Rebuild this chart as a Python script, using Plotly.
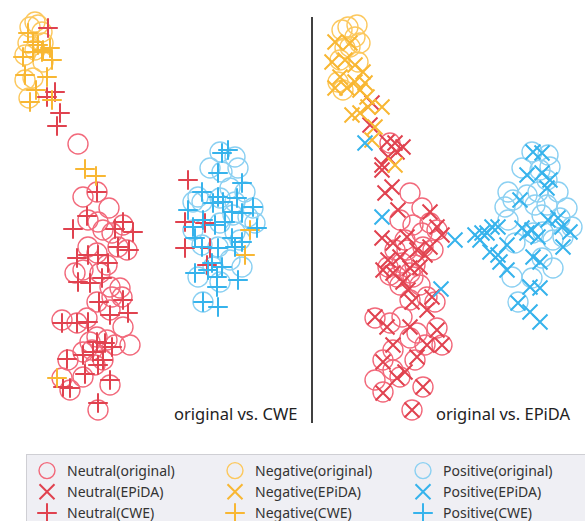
import plotly.graph_objects as go

# ---------------- data ----------------
# Left panel: original vs. CWE
L_neu_orig_x = [78, 97, 83, 109, 88, 98, 123, 103, 112, 88, 118, 127, 97, 107, 75, 83, 100, 110, 120, 97, 112, 122, 110, 123, 62, 77, 87, 97, 107, 115, 130, 83, 92, 103, 68, 95, 83, 62, 70, 110, 98, 90]
L_neu_orig_y = [144, 192, 197, 208, 220, 222, 225, 230, 233, 247, 247, 250, 253, 265, 273, 270, 273, 287, 288, 302, 297, 297, 310, 327, 320, 323, 318, 337, 340, 345, 345, 352, 350, 360, 360, 365, 377, 378, 390, 385, 410, 342]
L_neu_cwe_x = [48, 55, 47, 60, 57, 97, 87, 73, 123, 115, 133, 118, 129, 77, 88, 98, 108, 78, 90, 102, 99, 123, 110, 128, 62, 77, 88, 97, 105, 112, 83, 93, 103, 67, 98, 85, 70, 63, 110, 98, 188, 185, 205, 185, 210, 207]
L_neu_cwe_y = [28, 92, 97, 113, 126, 192, 216, 229, 222, 229, 232, 247, 250, 258, 255, 255, 263, 282, 283, 278, 302, 300, 315, 313, 323, 323, 322, 342, 343, 347, 355, 352, 360, 359, 365, 374, 388, 387, 380, 403, 180, 222, 223, 248, 248, 265]
L_neg_orig_x = [30, 38, 42, 28, 25, 43, 43, 25, 29, 33, 35, 35]
L_neg_orig_y = [27, 25, 32, 43, 55, 43, 62, 80, 98, 78, 50, 22]
L_neg_cwe_x = [28, 33, 38, 33, 43, 50, 23, 52, 47, 25, 36, 30, 52, 42, 85, 96, 57, 250, 245]
L_neg_cwe_y = [33, 42, 45, 52, 50, 48, 57, 60, 77, 75, 90, 102, 100, 52, 169, 176, 378, 230, 255]
L_pos_orig_x = [220, 235, 210, 222, 238, 245, 198, 202, 230, 220, 235, 253, 233, 248, 255, 193, 202, 220, 235, 240, 218, 230, 242, 198, 220, 213, 193, 203]
L_pos_orig_y = [152, 157, 168, 172, 168, 192, 197, 202, 188, 198, 202, 208, 215, 217, 223, 230, 245, 223, 232, 240, 247, 260, 267, 277, 282, 267, 202, 302]
L_pos_cwe_x = [222, 228, 218, 242, 202, 218, 237, 213, 223, 188, 253, 232, 242, 203, 193, 215, 225, 257, 232, 242, 195, 202, 218, 235, 212, 222, 208, 195, 217, 238, 217, 203, 218]
L_pos_cwe_y = [153, 150, 173, 183, 192, 197, 198, 203, 202, 210, 207, 212, 213, 220, 227, 225, 222, 228, 238, 242, 238, 247, 248, 247, 263, 267, 270, 273, 277, 280, 287, 302, 307]

# Right panel: original vs. EPiDA
R_neu_orig_x = [390, 410, 422, 400, 413, 430, 437, 405, 422, 395, 407, 423, 433, 388, 402, 415, 397, 410, 400, 420, 390, 413, 410, 427, 435, 375, 390, 402, 417, 437, 442, 425, 410, 393, 383, 415, 400, 375, 383, 423, 412, 393]
R_neu_orig_y = [143, 193, 208, 220, 225, 223, 230, 240, 233, 250, 250, 247, 250, 267, 263, 265, 277, 273, 285, 285, 275, 277, 300, 297, 302, 318, 323, 317, 333, 328, 345, 345, 338, 350, 360, 360, 377, 380, 392, 387, 410, 370]
R_neu_epida_x = [372, 370, 387, 395, 403, 397, 382, 388, 382, 392, 385, 398, 430, 382, 437, 442, 393, 407, 417, 425, 430, 388, 400, 383, 393, 410, 403, 420, 432, 412, 427, 375, 387, 410, 437, 393, 427, 442, 417, 383, 405, 397, 383, 423, 412, 408]
R_neu_epida_y = [103, 125, 142, 143, 147, 152, 165, 157, 170, 187, 193, 210, 212, 238, 227, 235, 243, 237, 250, 255, 247, 260, 257, 270, 273, 268, 282, 267, 297, 302, 310, 317, 327, 327, 330, 345, 345, 345, 357, 362, 372, 378, 393, 387, 410, 290]
R_neg_orig_x = [348, 357, 342, 355, 360, 345, 358, 340, 338, 343, 350]
R_neg_orig_y = [27, 25, 30, 37, 43, 48, 62, 60, 82, 90, 47]
R_neg_epida_x = [335, 350, 332, 345, 355, 363, 340, 355, 365, 335, 347, 360, 367, 382, 368, 352, 360, 375, 372, 395]
R_neg_epida_y = [42, 43, 62, 60, 65, 72, 77, 82, 83, 88, 88, 90, 97, 107, 107, 115, 113, 127, 140, 165]
R_pos_orig_x = [532, 548, 522, 540, 550, 547, 558, 508, 513, 505, 527, 538, 535, 547, 567, 560, 572, 508, 542, 515, 533, 543, 553, 563, 542, 512, 532, 553, 518]
R_pos_orig_y = [152, 155, 168, 170, 167, 180, 192, 192, 200, 207, 195, 192, 205, 205, 208, 218, 227, 220, 215, 243, 233, 232, 240, 237, 258, 277, 278, 268, 302]
R_pos_epida_x = [365, 382, 455, 441, 533, 542, 527, 542, 547, 550, 520, 558, 548, 562, 570, 475, 487, 492, 498, 522, 532, 538, 507, 490, 498, 500, 507, 533, 540, 563, 530, 540, 518, 530, 540, 482, 480, 527]
R_pos_epida_y = [143, 217, 240, 289, 152, 153, 175, 173, 188, 180, 200, 218, 220, 227, 232, 235, 233, 227, 227, 228, 230, 237, 245, 252, 255, 262, 270, 257, 262, 247, 287, 288, 303, 312, 322, 233, 240, 233]

panel_titles = ["original vs. CWE", "original vs. EPiDA"]

# ---------------- styles ----------------
C_NEU_O, C_NEU = "#f2697b", "#e0424f"
C_NEG_O, C_NEG = "#fcc85e", "#f8b733"
C_POS_O, C_POS = "#8bd0f2", "#36b3ec"

def circ(x, y, c, name, xa, show):
    return go.Scatter(x=x, y=y, mode="markers", name=name, xaxis=xa, yaxis="y",
                      showlegend=show, cliponaxis=False,
                      marker=dict(symbol="circle-open", size=20, color=c, line=dict(width=1.4, color=c)))

def mark(x, y, c, name, xa, sym, size):
    return go.Scatter(x=x, y=y, mode="markers", name=name, xaxis=xa, yaxis="y",
                      showlegend=True, cliponaxis=False,
                      marker=dict(symbol=sym, size=size, color=c, line=dict(width=2, color=c)))

fig = go.Figure()
# right-panel originals (no legend)
fig.add_trace(circ(R_neu_orig_x, R_neu_orig_y, C_NEU_O, "Neutral(original)", "x2", False))
fig.add_trace(circ(R_neg_orig_x, R_neg_orig_y, C_NEG_O, "Negative(original)", "x2", False))
fig.add_trace(circ(R_pos_orig_x, R_pos_orig_y, C_POS_O, "Positive(original)", "x2", False))
# left-panel originals (legend row 1)
fig.add_trace(circ(L_neu_orig_x, L_neu_orig_y, C_NEU_O, "Neutral(original)", "x", True))
fig.add_trace(circ(L_neg_orig_x, L_neg_orig_y, C_NEG_O, "Negative(original)", "x", True))
fig.add_trace(circ(L_pos_orig_x, L_pos_orig_y, C_POS_O, "Positive(original)", "x", True))
# EPiDA (legend row 2)
fig.add_trace(mark(R_neu_epida_x, R_neu_epida_y, C_NEU, "Neutral(EPiDA)", "x2", "x-thin-open", 15))
fig.add_trace(mark(R_neg_epida_x, R_neg_epida_y, C_NEG, "Negative(EPiDA)", "x2", "x-thin-open", 15))
fig.add_trace(mark(R_pos_epida_x, R_pos_epida_y, C_POS, "Positive(EPiDA)", "x2", "x-thin-open", 15))
# CWE (legend row 3)
fig.add_trace(mark(L_neu_cwe_x, L_neu_cwe_y, C_NEU, "Neutral(CWE)", "x", "cross-thin-open", 14))
fig.add_trace(mark(L_neg_cwe_x, L_neg_cwe_y, C_NEG, "Negative(CWE)", "x", "cross-thin-open", 14))
fig.add_trace(mark(L_pos_cwe_x, L_pos_cwe_y, C_POS, "Positive(CWE)", "x", "cross-thin-open", 14))

W, H = 585, 521
ax = dict(visible=False, showgrid=False, zeroline=False, fixedrange=True)
fig.update_layout(
    width=W, height=H, margin=dict(l=0, r=0, t=0, b=0, autoexpand=False),
    paper_bgcolor="white", plot_bgcolor="white",
    font=dict(family="Noto Sans, DejaVu Sans, sans-serif", color="#333333"),
    xaxis=dict(ax, domain=[0, 310 / W], range=[0, 310]),
    xaxis2=dict(ax, domain=[315 / W, 1], range=[315, 585]),
    yaxis=dict(ax, domain=[(H - 445) / H, 1], range=[445, 0]),
    legend=dict(orientation="h", x=26 / W, y=1 - 454 / H, xanchor="left", yanchor="top",
                entrywidth=143, tracegroupgap=0, bgcolor="#efeff4", bordercolor="#cfcfd4", borderwidth=1,
                font=dict(size=14, color="#333333"), itemclick=False),
    shapes=[dict(type="line", xref="paper", yref="y", x0=312 / W, x1=312 / W, y0=17, y1=423,
                 line=dict(color="black", width=1.5))],
    annotations=[
        dict(text=panel_titles[0], xref="x", yref="y", x=235, y=413, showarrow=False,
             font=dict(size=16.5, color="#222222")),
        dict(text=panel_titles[1], xref="x2", yref="y", x=503, y=413, showarrow=False,
             font=dict(size=16.5, color="#222222")),
    ],
)
fig.write_html("out.html", config={"displayModeBar": False},
               post_script="document.body.style.margin='0px';")
